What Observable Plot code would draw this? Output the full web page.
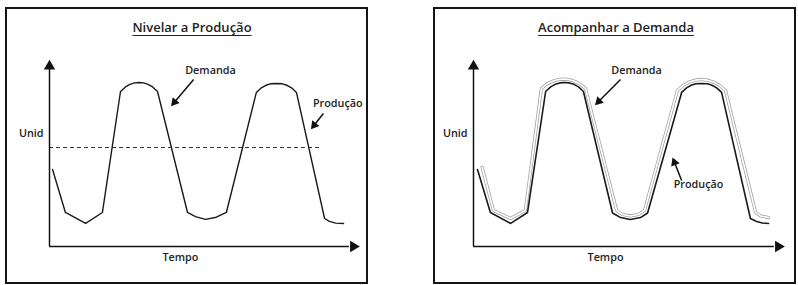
<!DOCTYPE html>
<html><head><meta charset="utf-8">
<script src="https://cdn.jsdelivr.net/npm/d3@7"></script>
<script src="https://cdn.jsdelivr.net/npm/@observablehq/plot@0.6"></script>
<style>
body{margin:0;background:#fff;width:798px;height:285px;position:relative;overflow:hidden;font-family:"Open Sans",sans-serif;}
.panel{position:absolute;top:7px;width:359px;height:273px;border:2px solid #151515;background:#fff;}
.title{position:absolute;top:9px;transform:translateX(-50%);white-space:nowrap;font-size:13px;font-weight:600;color:#222;text-decoration:underline;text-underline-offset:3px;text-decoration-thickness:1px;}
.panel svg{position:absolute;left:0;top:0;overflow:visible;}
</style></head><body>
<div class="panel" id="p1" style="left:5px"><div class="title" style="left:185px">Nivelar a Produção</div></div>
<div class="panel" id="p2" style="left:433px"><div class="title" style="left:181px">Acompanhar a Demanda</div></div>
<script>
// ---- Painel 1: Nivelar a Produção ----
const nivelarTempo = [1.0, 5.2, 11.8, 17.3, 23.2, 24.85, 26.3, 27.8, 29.25, 30.7, 32.2, 33.7, 35.3, 45.1, 47.7, 51.0, 54.5, 57.8, 67.6, 69.25, 70.7, 72.2, 74.15, 76.1, 77.6, 79.1, 80.7, 89.9, 91.5, 93.5, 96.1];
const nivelarDemanda = [42.1, 18.6, 12.6, 18.6, 84.7, 87.2, 88.6, 89.4, 89.6, 89.4, 88.6, 87.2, 84.7, 18.6, 16.3, 14.8, 16.0, 18.6, 84.2, 86.7, 88.1, 88.9, 89.1, 88.9, 88.1, 86.7, 84.2, 15.3, 13.7, 12.8, 12.6];
const nivelarProducao = 54.1;
const nivelarProducaoFim = 88.6;

// ---- Painel 2: Acompanhar a Demanda ----
const acompTempoProd = [1.3, 5.5, 12.1, 17.6, 23.5, 25.15, 26.6, 28.1, 29.65, 31.2, 32.7, 34.2, 35.8, 45.3, 47.9, 51.1, 54.4, 56.7, 67.8, 69.4, 70.9, 72.4, 74.3, 76.2, 77.7, 79.2, 80.8, 90.2, 92.2, 94.1, 96.1];
const acompProducao = [42.1, 18.6, 12.6, 18.6, 84.7, 87.2, 88.6, 89.4, 89.6, 89.4, 88.6, 87.2, 84.7, 18.3, 15.8, 14.8, 15.8, 18.3, 84.2, 86.7, 88.1, 88.9, 89.1, 88.9, 88.1, 86.7, 84.2, 15.3, 13.7, 12.8, 12.6];
const acompTempoDem = [2.8, 6.5, 12.1, 16.9, 22.1, 23.9, 25.7, 27.5, 29.3, 31.1, 32.9, 34.7, 36.5, 46.6, 48.5, 51.1, 53.7, 55.7, 66.4, 68.4, 70.3, 72.3, 74.25, 76.2, 78.2, 80.1, 82.1, 91.9, 93.5, 96.1];
const acompDemanda = [43.3, 19.7, 15.3, 19.7, 86.3, 88.8, 90.3, 91.2, 91.5, 91.2, 90.3, 88.8, 86.3, 19.7, 17.5, 16.7, 17.5, 19.7, 85.2, 88.2, 89.9, 90.9, 91.3, 90.9, 89.9, 88.2, 85.2, 18.6, 16.7, 15.8];

// ---- Rótulos e setas ----
const eixoY = "Unid";
const eixoX = "Tempo";
const rotulos1 = [
  {label: "Demanda", t: 52.6, u: 96.2},
  {label: "Produção", t: 94.2, u: 78.1}
];
const setas1 = [
  {t1: 47.1, u1: 91.3, t2: 40.2, u2: 77.6},
  {t1: 89.5, u1: 72.7, t2: 85.9, u2: 65.0}
];
const rotulos2 = [
  {label: "Demanda", t: 53.1, u: 96.2},
  {label: "Produção", t: 73.3, u: 33.9}
];
const setas2 = [
  {t1: 47.9, u1: 91.3, t2: 40.1, u2: 78.1},
  {t1: 67.8, u1: 36.1, t2: 65.1, u2: 47.5}
];

const W = 359, H = 273, MT = 54, MB = 36;
const font = "Open Sans, sans-serif";

function zip(ts, us) { return ts.map((t, i) => ({t, u: us[i]})); }

function draw(id, cfg) {
  const kx = (W - cfg.ml - cfg.mr) / 100, ky = (H - MT - MB) / 100;
  const heads = cfg.setas.map(a => {
    const sx = (a.t2 - a.t1) * kx, sy = -(a.u2 - a.u1) * ky;
    const L = Math.hypot(sx, sy), back = 3;
    return {t: a.t2 - (sx / L) * back / kx, u: a.u2 + (sy / L) * back / ky, rot: Math.atan2(sx, -sy) * 180 / Math.PI};
  });
  const plot = Plot.plot({
    width: W, height: H,
    marginLeft: cfg.ml, marginRight: cfg.mr, marginTop: MT, marginBottom: MB,
    x: {domain: [0, 100], axis: null},
    y: {domain: [0, 100], axis: null},
    style: {fontFamily: font, background: "transparent", overflow: "visible"},
    marks: [
      ...cfg.marks,
      Plot.ruleX([0], {y1: 0, y2: 97, stroke: "#111", strokeWidth: 1.5}),
      Plot.ruleY([0], {x1: 0, x2: 98, stroke: "#111", strokeWidth: 1.5}),
      Plot.dot([{t: 0, u: 98.5, r: 0}, {t: 99.3, u: 0, r: 90}], {x: "t", y: "u", rotate: "r", symbol: "triangle", r: 4.2, fill: "#111", stroke: null}),
      Plot.link(cfg.setas, {x1: "t1", y1: "u1", x2: "t2", y2: "u2", stroke: "#111", strokeWidth: 1.5}),
      Plot.dot(heads, {x: "t", y: "u", rotate: "rot", symbol: "triangle", r: 3.4, fill: "#111", stroke: null}),
      Plot.text(cfg.rotulos, {x: "t", y: "u", text: "label", fontSize: 10.8, fontWeight: 600, fill: "#222"}),
      Plot.text([eixoY], {x: 0, y: 61.7, text: d => d, dx: -6, textAnchor: "end", fontSize: 10.8, fontWeight: 600, fill: "#222"}),
      Plot.text([eixoX], {x: cfg.tempoX, y: 0, text: d => d, dy: 11, fontSize: 10.8, fontWeight: 600, fill: "#222"})
    ]
  });
  document.getElementById(id).appendChild(plot);
}

draw("p1", {
  ml: 42, mr: 11, tempoX: 42.8, setas: setas1, rotulos: rotulos1,
  marks: [
    Plot.ruleY([nivelarProducao], {x1: 0, x2: nivelarProducaoFim, stroke: "#333", strokeWidth: 1.1, strokeDasharray: "4,3"}),
    Plot.line(zip(nivelarTempo, nivelarDemanda), {x: "t", y: "u", stroke: "#1a1a1a", strokeWidth: 1.4})
  ]
});

draw("p2", {
  ml: 38, mr: 14, tempoX: 43.0, setas: setas2, rotulos: rotulos2,
  marks: [
    Plot.line(zip(acompTempoDem, acompDemanda), {x: "t", y: "u", stroke: "#a3a3a3", strokeWidth: 3.2}),
    Plot.line(zip(acompTempoDem, acompDemanda), {x: "t", y: "u", stroke: "#fff", strokeWidth: 1.6}),
    Plot.line(zip(acompTempoProd, acompProducao), {x: "t", y: "u", stroke: "#1a1a1a", strokeWidth: 1.6})
  ]
});
</script></body></html>
